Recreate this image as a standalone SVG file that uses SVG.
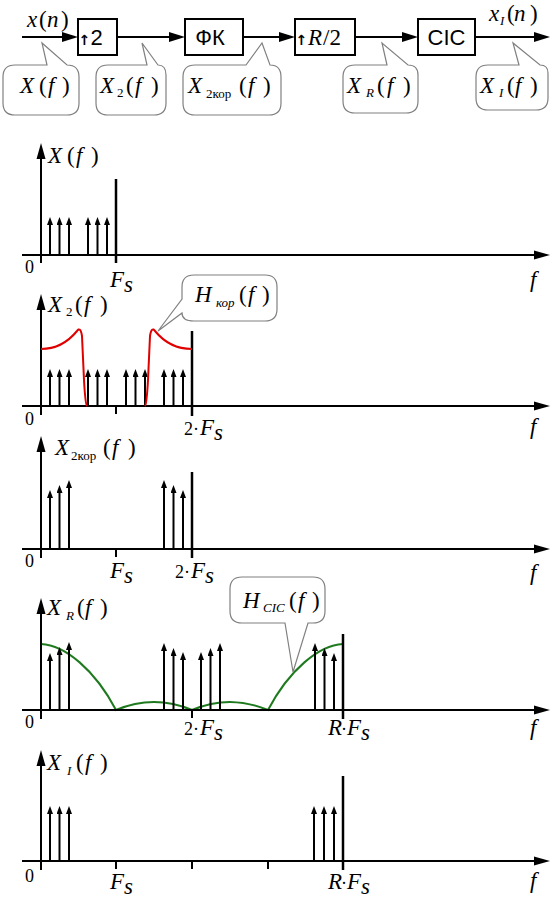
<svg xmlns="http://www.w3.org/2000/svg" width="560" height="899" viewBox="0 0 560 899">
<style>
.mi{font-family:"Liberation Serif","Times New Roman",serif;font-style:italic;font-size:23px;fill:#000}
.n{font-style:normal}
.sb{font-size:13px}
.ax{font-family:"Liberation Serif","Times New Roman",serif;font-size:18px;fill:#000}
.sans{font-family:"Liberation Sans",Arial,sans-serif;font-size:22px;fill:#000}
.arr{font-family:"DejaVu Sans",sans-serif;font-size:14px;font-weight:bold;font-style:normal}
.ln{stroke:#000;stroke-width:2;fill:none}
.bx{stroke:#000;stroke-width:2;fill:#fff}
.mk{stroke:#000;stroke-width:2.5;fill:none}
.bub{fill:#fff;stroke:#808080;stroke-width:1.2}
.imp line{stroke:#000;stroke-width:2}
</style>
<defs>
<marker id="ah" markerUnits="userSpaceOnUse" markerWidth="16" markerHeight="10" viewBox="0 0 16 10" refX="2" refY="5" orient="auto"><path d="M0,0 L16,5 L0,10 Z" fill="#000"/></marker>
<marker id="au" markerUnits="userSpaceOnUse" markerWidth="16" markerHeight="10" viewBox="0 0 16 10" refX="2" refY="5" orient="auto"><path d="M0,0.5 L16,5 L0,9.5 Z" fill="#000"/></marker>
<marker id="im" markerUnits="userSpaceOnUse" markerWidth="8" markerHeight="6" viewBox="0 0 8 6" refX="2" refY="3" orient="auto"><path d="M0,0 L8,3 L0,6 Z" fill="#000"/></marker>
</defs>
<rect width="560" height="899" fill="#fff"/>

<g id="connectors" class="ln">
<line x1="22" y1="37" x2="64" y2="37" marker-end="url(#ah)"/>
<line x1="117" y1="37" x2="171" y2="37" marker-end="url(#ah)"/>
<line x1="243" y1="37" x2="281" y2="37" marker-end="url(#ah)"/>
<line x1="355" y1="37" x2="404" y2="37" marker-end="url(#ah)"/>
<line x1="475" y1="37" x2="536" y2="37" marker-end="url(#ah)"/>
</g>

<g id="lbl-xn"><text class="mi" y="27" font-size="22"><tspan x="27">x</tspan><tspan class="n" x="39">(</tspan><tspan x="47">n</tspan><tspan class="n" x="61">)</tspan></text></g>
<g id="lbl-xIn"><text class="mi" y="21" font-size="22"><tspan x="489">x</tspan><tspan class="sb" x="500" y="25">I</tspan><tspan class="n" x="507" y="21">(</tspan><tspan x="514">n</tspan><tspan class="n" x="530">)</tspan></text></g>

<g id="up2"><rect class="bx" x="78" y="19" width="39" height="36"/><text class="arr" x="78.5" y="45">↑</text><text class="sans" x="90.5" y="45" font-size="20">2</text></g>
<g id="fk"><rect class="bx" x="185" y="19" width="58" height="36"/><text class="sans" x="210" y="45" text-anchor="middle">ФК</text></g>
<g id="upR2"><rect class="bx" x="295" y="19" width="60" height="36"/><text class="arr" x="295.5" y="45">↑</text><text class="mi" y="45" font-size="22"><tspan x="308">R</tspan><tspan class="n" x="323">/2</tspan></text></g>
<g id="cic"><rect class="bx" x="418" y="19" width="57" height="36"/><text class="sans" x="446.5" y="45" text-anchor="middle">CIC</text></g>

<g id="bub-X">
<path class="bub" d="M15,65 L47,65 L42,43 L67,65 Q79,65 79,77 L79,103 Q79,115 67,115 L15,115 Q3,115 3,103 L3,77 Q3,65 15,65 Z"/>
<text class="mi" y="93"><tspan x="20">X</tspan><tspan class="n" x="39">(</tspan><tspan x="48">f</tspan><tspan class="n" x="62">)</tspan></text>
</g>
<g id="bub-X2">
<path class="bub" d="M108,65 L147,65 L142,43 L158,65 Q166,65 166,75 L166,103 Q166,115 154,115 L108,115 Q96,115 96,103 L96,77 Q96,65 108,65 Z"/>
<text class="mi" y="93"><tspan x="100">X</tspan><tspan class="n sb" x="117" y="97">2</tspan><tspan class="n" x="126" y="93">(</tspan><tspan x="135">f</tspan><tspan class="n" x="151">)</tspan></text>
</g>
<g id="bub-X2kor">
<path class="bub" d="M195,65 L246,65 L262,43 L270,65 Q281,65 281,77 L281,103 Q281,115 269,115 L195,115 Q183,115 183,103 L183,77 Q183,65 195,65 Z"/>
<text class="mi" y="93"><tspan x="188">X</tspan><tspan class="n sb" x="206" y="98">2кор</tspan><tspan class="n" x="239" y="93">(</tspan><tspan x="248">f</tspan><tspan class="n" x="263">)</tspan></text>
</g>
<g id="bub-XR">
<path class="bub" d="M355,65 L387,65 L382,43 L408,65 Q418,65 418,75 L418,101 Q418,113 406,113 L355,113 Q343,113 343,101 L343,77 Q343,65 355,65 Z"/>
<text class="mi" y="93"><tspan x="347">X</tspan><tspan class="sb" x="366" y="97">R</tspan><tspan class="n" x="377" y="93">(</tspan><tspan x="387">f</tspan><tspan class="n" x="403">)</tspan></text>
</g>
<g id="bub-XI">
<path class="bub" d="M488,65 L519,65 L513,43 L540,65 Q548,65 548,73 L548,98 Q548,110 536,110 L488,110 Q476,110 476,98 L476,77 Q476,65 488,65 Z"/>
<text class="mi" y="93"><tspan x="480">X</tspan><tspan class="sb" x="499" y="97">I</tspan><tspan class="n" x="507" y="93">(</tspan><tspan x="515">f</tspan><tspan class="n" x="530">)</tspan></text>
</g>

<g id="plot1">
<line class="ln" x1="22" y1="255" x2="536" y2="255" marker-end="url(#au)"/>
<line class="ln" x1="41" y1="263" x2="41" y2="157" marker-end="url(#au)"/>
<line class="mk" x1="116" y1="179" x2="116" y2="263"/>
<g class="imp" marker-end="url(#im)">
<line x1="50" y1="255" x2="50" y2="223"/><line x1="59.5" y1="255" x2="59.5" y2="223"/><line x1="69" y1="255" x2="69" y2="223"/>
<line x1="88" y1="255" x2="88" y2="223"/><line x1="97.5" y1="255" x2="97.5" y2="223"/><line x1="107" y1="255" x2="107" y2="223"/>
</g>
<text class="mi" y="163"><tspan x="48">X</tspan><tspan class="n" x="67">(</tspan><tspan x="76">f</tspan><tspan class="n" x="91">)</tspan></text>
<text class="ax" x="25" y="273">0</text>
<text class="ax" y="287"><tspan class="mi" font-size="18" x="110">F</tspan><tspan class="mi" font-size="12" x="124" y="292">s</tspan></text>
<text class="mi" x="530" y="287">f</text>
</g>

<g id="plot2">
<path d="M87,406 L144,406" stroke="#e00000" stroke-width="2" fill="none"/>
<line class="ln" x1="22" y1="406" x2="536" y2="406" marker-end="url(#au)"/>
<line class="ln" x1="41" y1="415" x2="41" y2="308" marker-end="url(#au)"/>
<line class="ln" x1="116" y1="406" x2="116" y2="414"/>
<line class="mk" x1="192" y1="331" x2="192" y2="416"/>
<g class="imp" marker-end="url(#im)">
<line x1="50" y1="406" x2="50" y2="375"/><line x1="59.5" y1="406" x2="59.5" y2="375"/><line x1="69" y1="406" x2="69" y2="375"/>
<line x1="88" y1="406" x2="88" y2="375"/><line x1="97.5" y1="406" x2="97.5" y2="375"/><line x1="107" y1="406" x2="107" y2="375"/>
<line x1="126" y1="406" x2="126" y2="375"/><line x1="135.5" y1="406" x2="135.5" y2="375"/><line x1="145" y1="406" x2="145" y2="375"/>
<line x1="164" y1="406" x2="164" y2="375"/><line x1="173.5" y1="406" x2="173.5" y2="375"/><line x1="183" y1="406" x2="183" y2="375"/>
</g>
<path d="M41,349 C56,349 68,342 77,331 C79,328 81,329 82,336 L84,380 C85,398 86,405 87,406" stroke="#e00000" stroke-width="2" fill="none"/>
<path d="M145,406 C146,405 147,398 148,380 L150,336 C151,329 153,328 155,331 C164,342 177,349 192,349" stroke="#e00000" stroke-width="2" fill="none"/>
<text class="mi" y="312"><tspan x="48">X</tspan><tspan class="n sb" x="66" y="316">2</tspan><tspan class="n" x="75" y="312">(</tspan><tspan x="84">f</tspan><tspan class="n" x="100">)</tspan></text>
<text class="ax" x="25" y="425">0</text>
<text class="ax" y="435"><tspan x="184">2·</tspan><tspan class="mi" font-size="18" x="200">F</tspan><tspan class="mi" font-size="12" x="214" y="440">s</tspan></text>
<text class="mi" x="530" y="434">f</text>
</g>
<g id="bub-Hkor">
<path class="bub" d="M194,275 L265,275 Q277,275 277,287 L277,309 Q277,321 265,321 L194,321 Q182,321 182,313 L158,331 L182,299 L182,287 Q182,275 194,275 Z"/>
<text class="mi" y="302"><tspan x="195">H</tspan><tspan class="sb" x="216" y="307">кор</tspan><tspan class="n" x="239" y="302">(</tspan><tspan x="248">f</tspan><tspan class="n" x="262">)</tspan></text>
</g>

<g id="plot3">
<line class="ln" x1="22" y1="549" x2="536" y2="549" marker-end="url(#au)"/>
<line class="ln" x1="41" y1="558" x2="41" y2="450" marker-end="url(#au)"/>
<line class="ln" x1="116" y1="549" x2="116" y2="557"/>
<line class="mk" x1="192" y1="472" x2="192" y2="558"/>
<g class="imp" marker-end="url(#im)">
<line x1="50" y1="549" x2="50" y2="496"/><line x1="59.5" y1="549" x2="59.5" y2="491"/><line x1="69" y1="549" x2="69" y2="486"/>
<line x1="164" y1="549" x2="164" y2="486"/><line x1="173.5" y1="549" x2="173.5" y2="491"/><line x1="183" y1="549" x2="183" y2="496"/>
</g>
<text class="mi" y="455"><tspan x="55">X</tspan><tspan class="n sb" x="71" y="460">2кор</tspan><tspan class="n" x="103" y="455">(</tspan><tspan x="112">f</tspan><tspan class="n" x="128">)</tspan></text>
<text class="ax" x="25" y="567">0</text>
<text class="ax" y="578"><tspan class="mi" font-size="18" x="110">F</tspan><tspan class="mi" font-size="12" x="124" y="583">s</tspan></text>
<text class="ax" y="578"><tspan x="175">2·</tspan><tspan class="mi" font-size="18" x="191">F</tspan><tspan class="mi" font-size="12" x="205" y="583">s</tspan></text>
<text class="mi" x="530" y="580">f</text>
</g>

<g id="plot4">
<path d="M41,644 C65,645 95,670 116,710 Q154,694 192,710 Q230,694 268,710 C289,670 319,645 343,644" stroke="#1f7a1f" stroke-width="2" fill="none"/>
<line class="ln" x1="22" y1="710" x2="536" y2="710" marker-end="url(#au)"/>
<line class="ln" x1="41" y1="719" x2="41" y2="612" marker-end="url(#au)"/>
<line class="ln" x1="192" y1="710" x2="192" y2="718"/>
<line class="mk" x1="343" y1="634" x2="343" y2="719"/>
<g class="imp" marker-end="url(#im)">
<line x1="50" y1="710" x2="50" y2="659"/><line x1="59.5" y1="710" x2="59.5" y2="653"/><line x1="69" y1="710" x2="69" y2="648"/>
<line x1="164" y1="710" x2="164" y2="649"/><line x1="173.5" y1="710" x2="173.5" y2="654"/><line x1="183" y1="710" x2="183" y2="658"/>
<line x1="201" y1="710" x2="201" y2="658"/><line x1="210.5" y1="710" x2="210.5" y2="654"/><line x1="220" y1="710" x2="220" y2="649"/>
<line x1="315" y1="710" x2="315" y2="649"/><line x1="324.5" y1="710" x2="324.5" y2="654"/><line x1="334" y1="710" x2="334" y2="659"/>
</g>
<text class="mi" y="615"><tspan x="47">X</tspan><tspan class="sb" x="66" y="620">R</tspan><tspan class="n" x="77" y="615">(</tspan><tspan x="85">f</tspan><tspan class="n" x="100">)</tspan></text>
<text class="ax" x="25" y="728">0</text>
<text class="ax" y="735"><tspan x="184">2·</tspan><tspan class="mi" font-size="18" x="200">F</tspan><tspan class="mi" font-size="12" x="214" y="740">s</tspan></text>
<text class="ax" y="735"><tspan class="mi" font-size="18" x="328">R</tspan><tspan x="341">·</tspan><tspan class="mi" font-size="18" x="347">F</tspan><tspan class="mi" font-size="12" x="361" y="740">s</tspan></text>
<text class="mi" x="530" y="735">f</text>
</g>
<g id="bub-Hcic">
<path class="bub" d="M242,577 L313,577 Q325,577 325,589 L325,611 Q325,623 313,623 L308,623 L293,672 L285,623 L242,623 Q230,623 230,611 L230,589 Q230,577 242,577 Z"/>
<text class="mi" y="608"><tspan x="243">H</tspan><tspan class="sb" x="263" y="612">CIC</tspan><tspan class="n" x="289" y="608">(</tspan><tspan x="298">f</tspan><tspan class="n" x="312">)</tspan></text>
</g>

<g id="plot5">
<line class="ln" x1="22" y1="861" x2="536" y2="861" marker-end="url(#au)"/>
<line class="ln" x1="41" y1="870" x2="41" y2="764" marker-end="url(#au)"/>
<line class="ln" x1="116" y1="861" x2="116" y2="869"/>
<line class="ln" x1="192" y1="861" x2="192" y2="869"/>
<line class="ln" x1="268" y1="861" x2="268" y2="869"/>
<line class="mk" x1="343" y1="776" x2="343" y2="870"/>
<g class="imp" marker-end="url(#im)">
<line x1="50" y1="861" x2="50" y2="812"/><line x1="59.5" y1="861" x2="59.5" y2="812"/><line x1="69" y1="861" x2="69" y2="812"/>
<line x1="314" y1="861" x2="314" y2="812"/><line x1="324" y1="861" x2="324" y2="812"/><line x1="334" y1="861" x2="334" y2="812"/>
</g>
<text class="mi" y="770"><tspan x="47">X</tspan><tspan class="sb" x="67" y="775">I</tspan><tspan class="n" x="76" y="770">(</tspan><tspan x="85">f</tspan><tspan class="n" x="100">)</tspan></text>
<text class="ax" x="25" y="882">0</text>
<text class="ax" y="889"><tspan class="mi" font-size="18" x="110">F</tspan><tspan class="mi" font-size="12" x="124" y="894">s</tspan></text>
<text class="ax" y="889"><tspan class="mi" font-size="18" x="328">R</tspan><tspan x="341">·</tspan><tspan class="mi" font-size="18" x="347">F</tspan><tspan class="mi" font-size="12" x="361" y="894">s</tspan></text>
<text class="mi" x="530" y="888">f</text>
</g>
</svg>
